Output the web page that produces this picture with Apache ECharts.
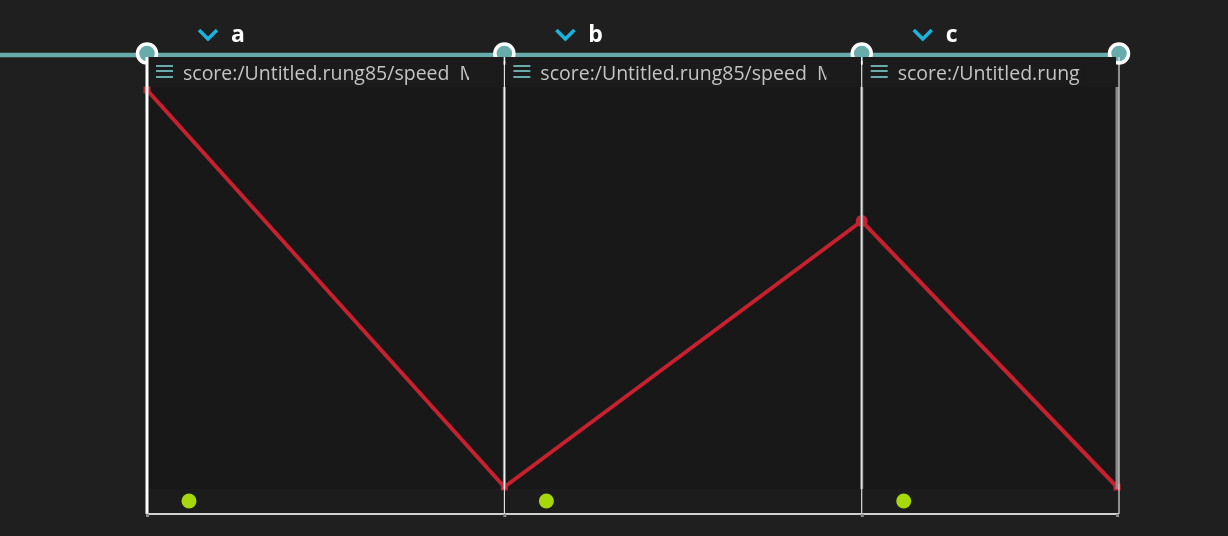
<!DOCTYPE html>
<html>
<head>
<meta charset="utf-8">
<script src="https://cdn.jsdelivr.net/npm/echarts@6/dist/echarts.min.js"></script>
<style>
html,body{margin:0;padding:0;background:#1f1f1f;}
#chart{width:1228px;height:536px;}
</style>
</head>
<body>
<div id="chart"></div>
<script>
// Segments (intervals) of the timeline
const segNames = ['a', 'b', 'c'];
const segStarts = [0, 7, 14];
const segEnds = [7, 14, 19];
const segTitles = ['score:/Untitled.rung85/speed  M', 'score:/Untitled.rung85/speed  M', 'score:/Untitled.rung'];
// Automation curve points (time, normalized value)
const curveTimes = [0, 7, 14, 19];
const curveValues = [1, 0, 0.67, 0];

const chart = echarts.init(document.getElementById('chart'));
const baseFont = '"Open Sans", "Noto Sans", sans-serif';

chart.setOption({
  backgroundColor: '#1f1f1f',
  animation: false,
  grid: { left: 147, right: 111, top: 90, bottom: 49 },
  xAxis: { type: 'value', min: 0, max: 19, show: false },
  yAxis: { type: 'value', min: 0, max: 1, show: false },
  series: [{
    type: 'line',
    z: 5,
    data: curveTimes.map((t, i) => ({
      value: [t, curveValues[i]],
      symbol: (i === 2) ? 'circle' : 'rect',
      symbolSize: (i === 2) ? 12 : 7
    })),
    lineStyle: { color: '#c7202e', width: 4 },
    itemStyle: { color: '#c7202e' },
    showSymbol: true,
    clip: false
  }]
});

function buildGraphics() {
  const px = t => chart.convertToPixel({ xAxisIndex: 0 }, t);
  const yTop = chart.convertToPixel({ yAxisIndex: 0 }, 1);
  const yBot = chart.convertToPixel({ yAxisIndex: 0 }, 0);
  const els = [];
  const teal = '#67abab';
  const lineY = 55;
  const headTop = 57, headBot = yTop - 3;
  const stripTop = yBot + 2, stripBot = stripTop + 25;
  const endX = px(segEnds[segEnds.length - 1]);

  // timeline teal line
  els.push({ type: 'line', z: 2, shape: { x1: 0, y1: lineY, x2: endX, y2: lineY }, style: { stroke: teal, lineWidth: 4.5 } });

  // boundary circles
  const bounds = [segStarts[0]].concat(segEnds);
  bounds.forEach((t, i) => {
    const x = px(t) + (i === bounds.length - 1 ? 2 : 0);
    els.push({ type: 'circle', z: 3, shape: { cx: x, cy: lineY - 1.5, r: 9.5 }, style: { fill: teal, stroke: '#ffffff', lineWidth: 3.5 } });
  });

  segNames.forEach((name, i) => {
    const x0 = px(segStarts[i]);
    const x1 = px(segEnds[i]);
    // body
    els.push({ type: 'rect', z: 1, shape: { x: x0 + 1, y: headBot, width: x1 - x0 - 1, height: stripTop - headBot }, style: { fill: '#181818' } });
    // header
    els.push({ type: 'rect', z: 4, shape: { x: x0 + 1, y: headTop, width: x1 - x0 - 2, height: headBot - headTop }, style: { fill: '#1b1b1b' } });
    // hamburger
    [66, 71, 77].forEach(yy => {
      els.push({ type: 'rect', z: 6, shape: { x: x0 + 9, y: yy - 1, width: 17, height: 2 }, style: { fill: teal } });
    });
    els.push({
      type: 'text', z: 6, x: x0 + 36, y: 74,
      style: { text: segTitles[i], fill: '#c4c4c4', font: '19.5px ' + baseFont, verticalAlign: 'middle' }
    });
    // clip cover at end of header title area
    const clipX = x0 + (i === 2 ? 222 : 322);
    els.push({ type: 'rect', z: 6.5, shape: { x: clipX, y: headTop, width: x1 - 1 - clipX, height: headBot - headTop }, style: { fill: '#1b1b1b' } });
    // chevron and label
    const cx = x0 + 61;
    els.push({ type: 'polyline', z: 6, shape: { points: [[cx - 9, 30], [cx, 39], [cx + 9, 30]] }, style: { stroke: '#1ab3dc', lineWidth: 3.5, fill: null } });
    els.push({ type: 'text', z: 6, x: x0 + 84, y: 35, style: { text: name, fill: '#ffffff', font: 'bold 23px ' + baseFont, verticalAlign: 'middle' } });
    // bottom strip
    els.push({ type: 'rect', z: 1, shape: { x: x0 + 1, y: stripTop, width: x1 - x0 - 1, height: stripBot - stripTop }, style: { fill: '#1c1c1c' } });
    els.push({ type: 'circle', z: 6, shape: { cx: x0 + 42, cy: stripTop + 12, r: 7.5 }, style: { fill: '#a6d80c' } });
    // right boundary gray + white line
    els.push({ type: 'rect', z: 6, shape: { x: x1 - 1.5, y: headBot, width: 3, height: stripTop - headBot }, style: { fill: '#8a8a8a' } });
    els.push({ type: 'line', z: 7, shape: { x1: x1 + (i === 2 ? 2 : 0), y1: headTop, x2: x1 + (i === 2 ? 2 : 0), y2: stripBot }, style: { stroke: '#ffffff', lineWidth: 1 } });
  });

  const sx = px(segStarts[0]);
  // left white border
  els.push({ type: 'rect', z: 7, shape: { x: sx - 1.5, y: headTop, width: 3, height: stripBot - headTop }, style: { fill: '#ffffff' } });
  // bottom line
  els.push({ type: 'line', z: 7, shape: { x1: sx - 1, y1: stripBot, x2: endX + 2, y2: stripBot }, style: { stroke: '#d0d0d0', lineWidth: 2 } });
  bounds.forEach(t => {
    els.push({ type: 'rect', z: 7, shape: { x: px(t) - 1, y: stripBot, width: 3, height: 3 }, style: { fill: '#8a8a8a' } });
  });
  return els;
}

chart.setOption({ graphic: { elements: buildGraphics() } });
</script>
</body>
</html>
